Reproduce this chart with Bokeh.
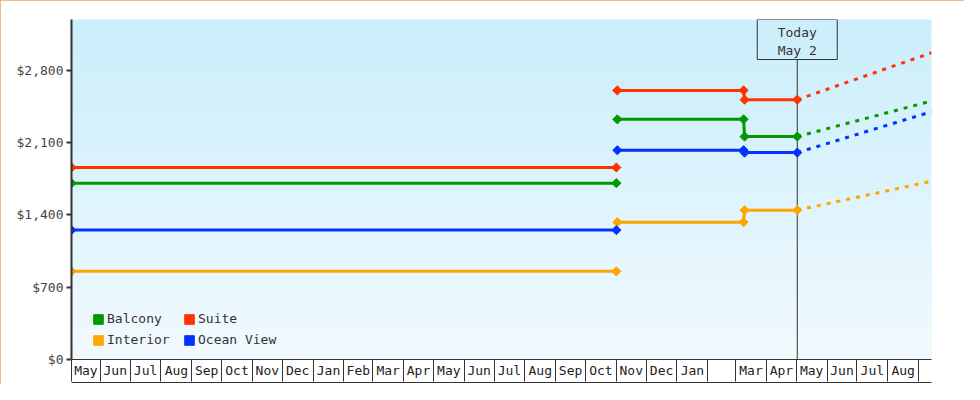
import numpy as np
import pandas as pd
from datetime import datetime
from bokeh.plotting import figure
from bokeh.models import (Range1d, LinearAxis, FixedTicker, Span, Legend, LegendItem,
                          NumeralTickFormatter)
from bokeh.core.properties import value
from bokeh.embed import file_html
from bokeh.resources import INLINE

# ---------------- data ----------------
X_START = datetime(2023, 5, 3)
X_END = datetime(2025, 9, 14)
TODAY = datetime(2025, 5, 2)
TODAY_TEXT = ["Today", "May 2"]

Y_MAX = 3290
Y_TICKS = [0, 700, 1400, 2100, 2800]

MONTH_LABELS = ["May", "Jun", "Jul", "Aug", "Sep", "Oct", "Nov", "Dec",
                "Jan", "Feb", "Mar", "Apr", "May", "Jun", "Jul", "Aug", "Sep", "Oct", "Nov", "Dec",
                "Jan", "", "Mar", "Apr", "May", "Jun", "Jul", "Aug", ""]

CATEGORIES = ["Balcony", "Suite", "Interior", "Ocean View"]
COLORS = {"Balcony": "#009900", "Suite": "#ff3300", "Interior": "#ffa500", "Ocean View": "#0033ff"}

# earlier sailing prices
SEG1_DATES = [datetime(2023, 5, 3), datetime(2024, 11, 1)]
BALCONY_SEG1 = [1706, 1706]
SUITE_SEG1 = [1858, 1858]
INTERIOR_SEG1 = [853, 853]
OCEAN_SEG1 = [1252, 1252]

# current sailing prices
SEG2_DATES = [datetime(2024, 11, 2), datetime(2025, 3, 9), datetime(2025, 3, 10), datetime(2025, 5, 2)]
BALCONY_SEG2 = [2324, 2324, 2157, 2157]
SUITE_SEG2 = [2604, 2604, 2514, 2514]
INTERIOR_SEG2 = [1329, 1329, 1445, 1445]
OCEAN_SEG2 = [2025, 2025, 2002, 2002]

# forecast
FORECAST_DATES = [datetime(2025, 5, 2), datetime(2025, 9, 14)]
BALCONY_FC = [2157, 2501]
SUITE_FC = [2514, 2968]
INTERIOR_FC = [1445, 1725]
OCEAN_FC = [2002, 2398]

SERIES = {
    "Balcony": (BALCONY_SEG1, BALCONY_SEG2, BALCONY_FC),
    "Suite": (SUITE_SEG1, SUITE_SEG2, SUITE_FC),
    "Interior": (INTERIOR_SEG1, INTERIOR_SEG2, INTERIOR_FC),
    "Ocean View": (OCEAN_SEG1, OCEAN_SEG2, OCEAN_FC),
}

# ---------------- helpers ----------------
EPOCH = datetime(1970, 1, 1)


def ms(d):
    return (d - EPOCH).total_seconds() * 1000.0


FONT = "DejaVu Sans Mono"
TXT = "#333333"
FRAME_W, FRAME_H = 860, 340

p = figure(frame_width=FRAME_W, frame_height=FRAME_H, output_backend="svg", toolbar_location=None,
           x_range=Range1d(ms(X_START), ms(X_END)), y_range=Range1d(0, Y_MAX),
           x_axis_location=None, y_axis_location=None,
           min_border_left=71, min_border_right=33, min_border_top=19, min_border_bottom=25,
           background_fill_color="#e6f6fd", border_fill_color="white",
           outline_line_color=None)
p.styles = {"outline": "1px solid #e8a860", "outline-offset": "-1px"}
p.xgrid.visible = False
p.ygrid.visible = False

# gradient background of plot area
N = 340
top = np.array([0xca, 0xee, 0xfb], dtype=float)
bot = np.array([0xf2, 0xfa, 0xfe], dtype=float)
t = np.linspace(0, 1, N)[:, None]
cols = (bot * (1 - t) + top * t).astype(np.uint32)
img = (255 << 24) | (cols[:, 2] << 16) | (cols[:, 1] << 8) | cols[:, 0]
img = img.reshape(N, 1).astype(np.uint32)
bg = p.image_rgba(image=[img], x=ms(X_START), y=0, dw=ms(X_END) - ms(X_START), dh=Y_MAX)
bg.level = "image"

# today line
p.add_layout(Span(location=ms(TODAY), dimension="height", line_color="#333333",
                  line_width=1, level="underlay"))

# series
for cat in CATEGORIES:
    s1, s2, fc = SERIES[cat]
    c = COLORS[cat]
    x1 = [ms(d) for d in SEG1_DATES]
    x2 = [ms(d) for d in SEG2_DATES]
    xf = [ms(d) for d in FORECAST_DATES]
    p.line(xf, fc, line_color=c, line_width=3, line_dash="4 6")
    p.line(x1, s1, line_color=c, line_width=3)
    p.line(x2, s2, line_color=c, line_width=3)
    p.scatter(x1 + x2, s1 + s2, marker="square", angle=np.pi / 4, size=6.5,
              fill_color=c, line_color=c, line_width=1)

# today box
ypp = Y_MAX / FRAME_H
p.rect(x=[ms(TODAY)], y=[Y_MAX - 20 * ypp], width=80, height=40,
       width_units="screen", height_units="screen",
       fill_color="#cdeffb", line_color="#333333", line_width=1)
p.text(x=[ms(TODAY), ms(TODAY)], y=[Y_MAX - 12.5 * ypp, Y_MAX - 31 * ypp], text=TODAY_TEXT,
       text_font=value(FONT), text_font_size="13px", text_align="center",
       text_baseline="middle", text_color=TXT)

# legend (square swatches)
items = []
for cat in CATEGORIES:
    r = p.quad(left=[np.nan], right=[np.nan], top=[np.nan], bottom=[np.nan],
               fill_color=COLORS[cat], line_color=COLORS[cat])
    items.append(LegendItem(label=cat, renderers=[r]))
legend = Legend(items=items, location=(11, 2), orientation="horizontal", ncols=2,
                glyph_width=12, glyph_height=12, label_height=12, label_width=70,
                label_standoff=3, spacing=6, padding=10, margin=0,
                label_text_font=FONT, label_text_font_size="13px", label_text_color=TXT,
                border_line_alpha=0, background_fill_alpha=0)
p.add_layout(legend)

# y axis
yax = LinearAxis(ticker=FixedTicker(ticks=Y_TICKS), formatter=NumeralTickFormatter(format="$0,0"))
yax.axis_line_color = "#333333"
yax.axis_line_width = 2
yax.major_tick_line_color = "#333333"
yax.major_tick_line_width = 2
yax.major_tick_in = 0
yax.major_tick_out = 5
yax.minor_tick_out = 0
yax.minor_tick_in = 0
yax.major_label_standoff = 3
yax.major_label_text_font = FONT
yax.major_label_text_font_size = "13px"
yax.major_label_text_color = "#444444"
p.add_layout(yax, "left")

# x axis: month boxes
edges = [X_START] + list(pd.date_range("2023-06-01", "2025-09-01", freq="MS").to_pydatetime())
edges_full = edges + [X_END]
edge_ms = [ms(d) for d in edges]
centers = [(ms(a) + ms(b)) / 2 for a, b in zip(edges_full[:-1], edges_full[1:])]
overrides = {c: lab for c, lab in zip(centers, MONTH_LABELS)}

xa = LinearAxis(ticker=FixedTicker(ticks=centers, minor_ticks=edge_ms))
xa.major_label_overrides = overrides
xa.axis_line_color = "#333333"
xa.axis_line_width = 1
xa.major_tick_in = 0
xa.major_tick_out = 0
xa.minor_tick_in = 0
xa.minor_tick_out = 22
xa.minor_tick_line_color = "#333333"
xa.minor_tick_line_width = 1
xa.major_label_standoff = -19
xa.major_label_text_font = FONT
xa.major_label_text_font_size = "13px"
xa.major_label_text_color = "#222222"
xa.axis_label = "\u00a0"
xa.axis_label_standoff = -2
xa.axis_label_text_font_size = "1px"
p.add_layout(xa, "below")

xb = LinearAxis(ticker=FixedTicker(ticks=[]))
xb.axis_line_color = "#333333"
xb.axis_line_width = 1
xb.major_tick_in = 0
xb.major_tick_out = 0
xb.minor_tick_in = 0
xb.minor_tick_out = 0
xb.major_label_standoff = 0
xb.major_label_text_font_size = "0px"
p.add_layout(xb, "below")

open("out.html", "w").write(file_html(p, INLINE))
